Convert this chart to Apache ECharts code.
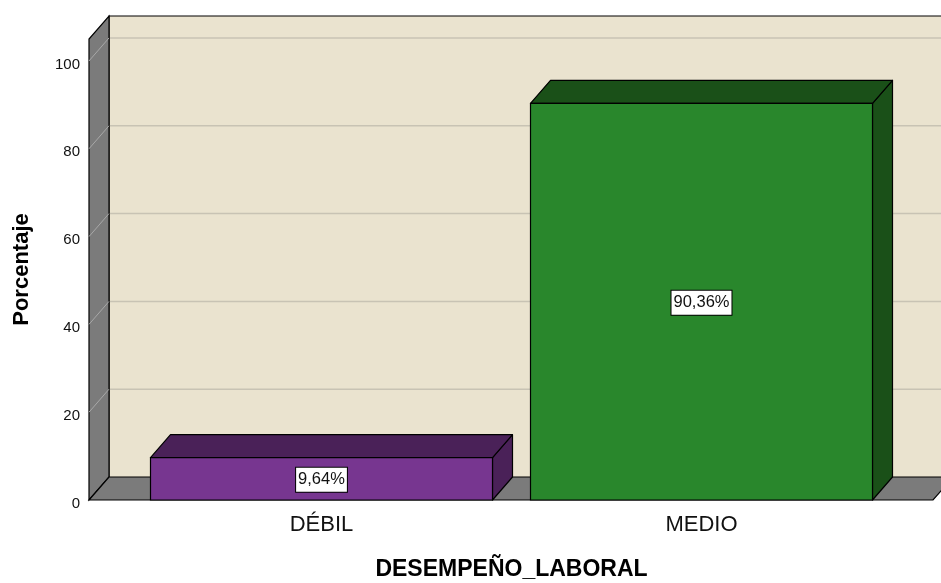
<!DOCTYPE html>
<html>
<head>
<meta charset="utf-8">
<script src="https://cdn.jsdelivr.net/npm/echarts@6/dist/echarts.min.js"></script>
<style>
html,body{margin:0;padding:0;background:#fff;}
#chart{width:941px;height:583px;}
</style>
</head>
<body>
<div id="chart"></div>
<script>
// ---- data ----
const categories = ['DÉBIL', 'MEDIO'];
const values = [9.64, 90.36];
const valueLabels = ['9,64%', '90,36%'];
const yAxisTitle = 'Porcentaje';
const xAxisTitle = 'DESEMPEÑO_LABORAL';

// ---- styles ----
const frontColors = ['#773690', '#29872C'];
const topColors = ['#4A2158', '#1A5018'];
const DX = 20, DY = 23;          // depth offset of the 3D box
const AXIS_OFFSET = 42.5;        // y-axis sits left of the category band
const RIGHT_EXT = 41.5;          // floor extends right of the band

const chart = echarts.init(document.getElementById('chart'), null, {renderer: 'canvas'});

function renderBackground(params, api) {
  const cs = params.coordSys;
  const x0 = cs.x - AXIS_OFFSET;
  const x1 = cs.x + cs.width + RIGHT_EXT;
  const yb = api.coord([0, 0])[1];
  const yt = cs.y;
  const children = [];
  children.push({type: 'rect', shape: {x: x0 + DX, y: yt - DY, width: 2000, height: yb - yt},
    style: {fill: '#EAE3CF', stroke: null}});
  [20, 40, 60, 80, 100].forEach(v => {
    const y = api.coord([0, v])[1];
    children.push({type: 'line', shape: {x1: x0 + DX, y1: y - DY, x2: 2000, y2: y - DY},
      style: {stroke: '#C8C3B4', lineWidth: 1.5}});
  });
  children.push({type: 'polyline', shape: {points: [[x0 + DX, yb - DY], [x0 + DX, yt - DY], [2000, yt - DY]]},
    style: {stroke: '#000', lineWidth: 1.2, fill: null}});
  children.push({type: 'polygon', shape: {points: [[x0, yb], [x0, yt], [x0 + DX, yt - DY], [x0 + DX, yb - DY]]},
    style: {fill: '#7B7B7B', stroke: '#000', lineWidth: 1.2}});
  [20, 40, 60, 80, 100].forEach(v => {
    const y = api.coord([0, v])[1];
    children.push({type: 'line', shape: {x1: x0, y1: y, x2: x0 + DX, y2: y - DY},
      style: {stroke: '#A8A8A8', lineWidth: 1}});
  });
  children.push({type: 'polygon', shape: {points: [[x0, yb], [x1, yb], [x1 + DX, yb - DY], [x0 + DX, yb - DY]]},
    style: {fill: '#7B7B7B', stroke: '#000', lineWidth: 1.2}});
  return {type: 'group', children: children};
}

function renderBar(params, api) {
  const i = api.value(0);
  const v = api.value(1);
  const p0 = api.coord([i, 0]);
  const p1 = api.coord([i, v]);
  const w = api.size([1, 0])[0] * 0.9;
  const xl = p0[0] - w / 2, xr = p0[0] + w / 2;
  const yb = p0[1], yt = p1[1];
  return {type: 'group', children: [
    {type: 'polygon', shape: {points: [[xr, yt], [xr, yb], [xr + DX, yb - DY], [xr + DX, yt - DY]]},
      style: {fill: topColors[i], stroke: '#000', lineWidth: 1.2, lineJoin: 'round'}},
    {type: 'polygon', shape: {points: [[xl, yt], [xr, yt], [xr + DX, yt - DY], [xl + DX, yt - DY]]},
      style: {fill: topColors[i], stroke: '#000', lineWidth: 1.2, lineJoin: 'round'}},
    {type: 'rect', shape: {x: xl, y: yt, width: w, height: yb - yt},
      style: {fill: frontColors[i], stroke: '#000', lineWidth: 1.2}},
    {type: 'text', x: p0[0], y: (yt + yb) / 2 + 1,
      style: {text: valueLabels[i], fill: '#111', font: '16.5px "Liberation Sans", Arial, sans-serif',
        align: 'center', verticalAlign: 'middle', backgroundColor: '#fff', borderColor: '#000',
        borderWidth: 1, padding: [4, 2, 3, 2]}}
  ]};
}

chart.setOption({
  animation: false,
  backgroundColor: '#fff',
  grid: {left: 131.5, right: 49.5, top: 39, bottom: 83, containLabel: false, outerBoundsMode: 'none'},
  xAxis: {
    type: 'category',
    data: categories,
    axisLine: {show: false},
    axisTick: {show: false},
    axisLabel: {color: '#111', fontSize: 22, fontFamily: '"Liberation Sans", Arial, sans-serif', margin: 14},
    name: xAxisTitle,
    nameLocation: 'middle',
    nameGap: 58,
    nameTextStyle: {color: '#000', fontSize: 23, fontWeight: 'bold', fontFamily: '"Liberation Sans", Arial, sans-serif'}
  },
  yAxis: {
    type: 'value',
    min: 0, max: 105, interval: 20,
    offset: AXIS_OFFSET,
    axisLine: {show: false},
    axisTick: {show: false},
    splitLine: {show: false},
    axisLabel: {color: '#111', fontSize: 15, fontFamily: '"Liberation Sans", Arial, sans-serif', margin: 9,
      showMaxLabel: false, verticalAlign: 'top', lineHeight: 7},
    name: yAxisTitle,
    nameLocation: 'middle',
    nameGap: 56,
    nameRotate: 90,
    nameTextStyle: {color: '#000', fontSize: 22, fontWeight: 'bold', fontFamily: '"Liberation Sans", Arial, sans-serif'}
  },
  series: [
    {type: 'custom', silent: true, data: [[0, 0]], renderItem: renderBackground, z: 1},
    {type: 'custom', silent: true, data: values.map((v, i) => [i, v]), renderItem: renderBar, z: 2}
  ]
});
</script>
</body>
</html>
